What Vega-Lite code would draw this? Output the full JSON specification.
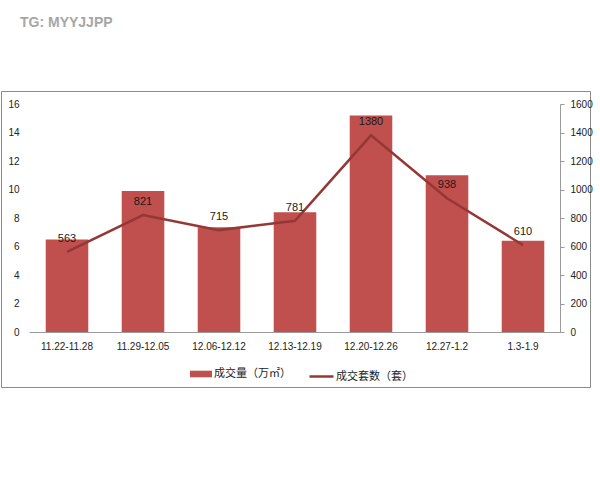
{
  "$schema": "https://vega.github.io/schema/vega-lite/v6.json",
  "autosize": "none",
  "width": 589,
  "height": 296,
  "padding": {"left": 1, "top": 91, "right": 10, "bottom": 93},
  "background": "white",
  "title": {
    "text": "TG: MYYJJPP",
    "anchor": "start",
    "frame": "group",
    "offset": 61,
    "dx": 19,
    "color": "#a6a6a6",
    "fontSize": 14,
    "font": "Liberation Sans",
    "fontWeight": "bold"
  },
  "config": {
    "view": {"stroke": "#8c8c8c", "strokeWidth": 1},
    "axis": {
      "labelFont": "Liberation Sans",
      "labelFontSize": 10,
      "labelColor": "#222222",
      "grid": false,
      "title": null
    }
  },
  "data": {
    "values": [
      {"period": "11.22-11.28", "area": 6.5, "units": 563, "barName": "成交量（万㎡）", "lineName": "成交套数（套）"},
      {"period": "11.29-12.05", "area": 9.9, "units": 821, "barName": "成交量（万㎡）", "lineName": "成交套数（套）"},
      {"period": "12.06-12.12", "area": 7.35, "units": 715, "barName": "成交量（万㎡）", "lineName": "成交套数（套）"},
      {"period": "12.13-12.19", "area": 8.4, "units": 781, "barName": "成交量（万㎡）", "lineName": "成交套数（套）"},
      {"period": "12.20-12.26", "area": 15.2, "units": 1380, "barName": "成交量（万㎡）", "lineName": "成交套数（套）"},
      {"period": "12.27-1.2", "area": 11.0, "units": 938, "barName": "成交量（万㎡）", "lineName": "成交套数（套）"},
      {"period": "1.3-1.9", "area": 6.4, "units": 610, "barName": "成交量（万㎡）", "lineName": "成交套数（套）"}
    ]
  },
  "encoding": {
    "x": {
      "field": "period",
      "type": "nominal",
      "sort": null,
      "scale": {"range": [28, 560], "paddingInner": 0.44, "paddingOuter": 0.22},
      "axis": {
        "orient": "bottom",
        "offset": -55,
        "labelAngle": 0,
        "ticks": false,
        "tickSize": 0,
        "labelPadding": 9,
        "domainColor": "#9a9a9a",
        "domainWidth": 1
      }
    }
  },
  "layer": [
    {
      "mark": {"type": "bar", "color": "#c0504d"},
      "encoding": {
        "y": {
          "field": "area",
          "type": "quantitative",
          "scale": {"domain": [0, 16], "range": [241, 13], "nice": false},
          "axis": {
            "orient": "left",
            "offset": -28,
            "values": [0, 2, 4, 6, 8, 10, 12, 14, 16],
            "format": "d",
            "domain": false,
            "ticks": false,
            "tickSize": 0,
            "labelPadding": 10
          }
        },
        "fill": {
          "field": "barName",
          "type": "nominal",
          "scale": {"range": ["#c0504d"]},
          "legend": {
            "orient": "none",
            "legendX": 189,
            "legendY": 272,
            "title": null,
            "padding": 0,
            "symbolType": "M-1,-0.3L1,-0.3L1,0.3L-1,0.3Z",
            "symbolSize": 484,
            "symbolStrokeWidth": 0,
            "labelFont": "Noto Sans CJK SC",
            "labelFontSize": 11,
            "labelColor": "#222222",
            "labelOffset": 2
          }
        }
      }
    },
    {
      "encoding": {
        "y": {
          "field": "units",
          "type": "quantitative",
          "scale": {"domain": [0, 1600], "range": [241, 13], "nice": false},
          "axis": {
            "orient": "right",
            "offset": -30,
            "values": [0, 200, 400, 600, 800, 1000, 1200, 1400, 1600],
            "format": "d",
            "domain": true,
            "domainColor": "#9a9a9a",
            "ticks": true,
            "tickColor": "#9a9a9a",
            "tickSize": 4,
            "labelPadding": 6
          }
        }
      },
      "layer": [
        {
          "mark": {"type": "line", "strokeWidth": 2.5, "color": "#953735"},
          "encoding": {
            "stroke": {
              "field": "lineName",
              "type": "nominal",
              "scale": {"range": ["#953735"]},
              "legend": {
                "orient": "none",
                "legendX": 307,
                "legendY": 272,
                "title": null,
                "padding": 0,
                "symbolType": "M-1,0L1,0",
                "symbolSize": 576,
                "symbolStrokeWidth": 2.5,
                "labelFont": "Noto Sans CJK SC",
                "labelFontSize": 11,
                "labelColor": "#222222",
                "labelOffset": 1
              }
            }
          }
        },
        {
          "mark": {
            "type": "text",
            "dy": -13,
            "baseline": "middle",
            "font": "Liberation Sans",
            "fontSize": 11,
            "color": "#1a1a1a"
          },
          "encoding": {
            "text": {"field": "units", "type": "quantitative", "format": "d"}
          }
        }
      ]
    }
  ],
  "resolve": {"scale": {"y": "independent", "fill": "independent", "stroke": "independent"}}
}
